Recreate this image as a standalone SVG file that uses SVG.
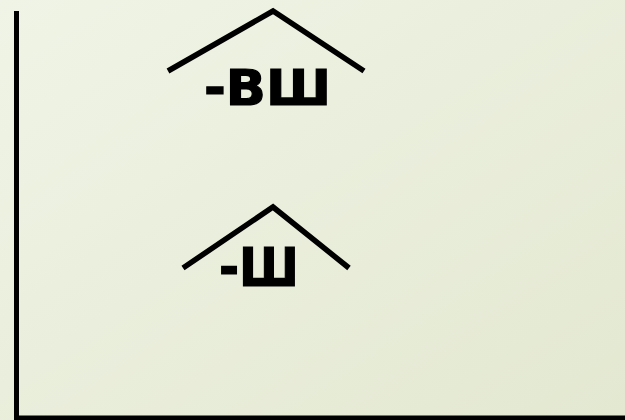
<svg xmlns="http://www.w3.org/2000/svg" width="625" height="420" viewBox="0 0 625 420">
<defs>
<linearGradient id="bg" x1="0" y1="0" x2="1" y2="1">
<stop offset="0" stop-color="#f0f4e6"/>
<stop offset="1" stop-color="#e3e8d1"/>
</linearGradient>
<style>
.roof{fill:none;stroke:#000;stroke-width:5.5;stroke-linejoin:miter;stroke-linecap:butt}
.frame{fill:none;stroke:#000;stroke-width:5}
.lbl{font-family:"DejaVu Sans",Verdana,sans-serif;font-weight:bold;fill:#000;stroke:#000;stroke-width:1.2}
</style>
</defs>
<rect width="625" height="420" fill="url(#bg)"/>
<g id="frame">
<path class="frame" d="M16.5,11 V418 H625"/>
</g>
<g id="house1">
<polyline class="roof" points="168,71 273,11 364,71"/>
<text class="lbl" x="204" y="105" font-size="50" textLength="127" lengthAdjust="spacingAndGlyphs">-ВШ</text>
</g>
<g id="house2">
<polyline class="roof" points="183,268 273,207 349,268"/>
<text class="lbl" x="219" y="286" font-size="53" textLength="80" lengthAdjust="spacingAndGlyphs">-Ш</text>
</g>
</svg>
